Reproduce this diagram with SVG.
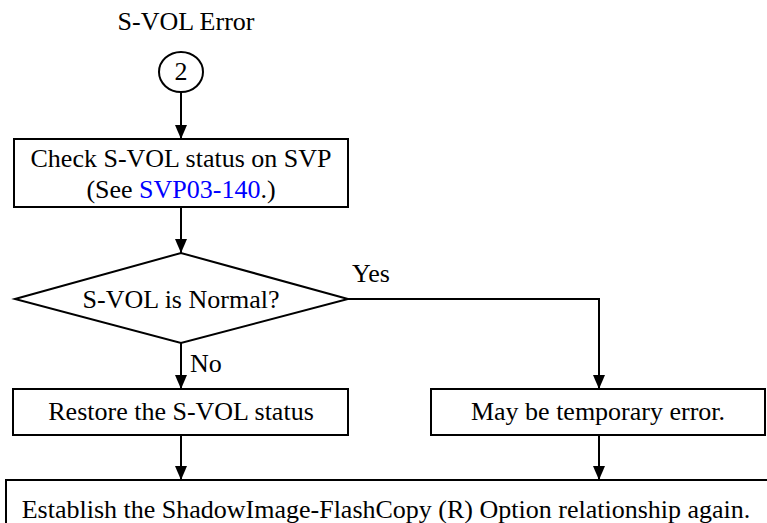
<svg xmlns="http://www.w3.org/2000/svg" width="767" height="523" viewBox="0 0 767 523">
  <style>
    .shape { fill: #ffffff; stroke: #000000; stroke-width: 2; }
    .conn { fill: none; stroke: #000000; stroke-width: 2; }
    .c { text-anchor: middle; }
    .link { fill: #0000ff; }
  </style>
  <defs>
    <marker id="arrow" markerUnits="userSpaceOnUse" markerWidth="14" markerHeight="14" viewBox="0 0 14 14" refX="14" refY="7" orient="auto">
      <path d="M0,1 L14,7 L0,13 Z" fill="#000000"/>
    </marker>
  </defs>
  <rect width="767" height="523" fill="#ffffff"/>

  <g font-family="Liberation Serif, Times New Roman, DejaVu Serif, serif" font-size="26" fill="#000000">
  <g id="connectors">
    <line class="conn" x1="181" y1="92" x2="181" y2="139" marker-end="url(#arrow)"/>
    <line class="conn" x1="181" y1="207" x2="181" y2="253" marker-end="url(#arrow)"/>
    <polyline class="conn" points="348,299 599,299 599,389" marker-end="url(#arrow)"/>
    <line class="conn" x1="181" y1="343" x2="181" y2="389" marker-end="url(#arrow)"/>
    <line class="conn" x1="181" y1="435" x2="181" y2="480" marker-end="url(#arrow)"/>
    <line class="conn" x1="599" y1="435" x2="599" y2="480" marker-end="url(#arrow)"/>
    <text x="352" y="282">Yes</text>
    <text x="190" y="372">No</text>
  </g>

  <g id="start">
    <text class="c" x="186" y="30">S-VOL Error</text>
    <ellipse class="shape" cx="181" cy="72" rx="22" ry="20"/>
    <text class="c" x="181" y="80">2</text>
  </g>

  <g id="check">
    <rect class="shape" x="14" y="139" width="334" height="68"/>
    <text class="c" x="181" y="167">Check S-VOL status on SVP</text>
    <text class="c" x="181" y="198">(See <tspan class="link">SVP03-140</tspan>.)</text>
  </g>

  <g id="decision">
    <polygon class="shape" points="15,299 181,253 348,299 181,343"/>
    <text class="c" x="181" y="308">S-VOL is Normal?</text>
  </g>

  <g id="restore">
    <rect class="shape" x="13" y="389" width="335" height="46"/>
    <text class="c" x="181" y="420">Restore the S-VOL status</text>
  </g>

  <g id="temporary">
    <rect class="shape" x="431" y="389" width="334" height="46"/>
    <text class="c" x="598" y="420">May be temporary error.</text>
  </g>

  <g id="establish">
    <rect class="shape" x="6" y="480" width="770" height="60"/>
    <text class="c" x="386" y="518">Establish the ShadowImage-FlashCopy (R) Option relationship again.</text>
  </g>
  </g>
</svg>
